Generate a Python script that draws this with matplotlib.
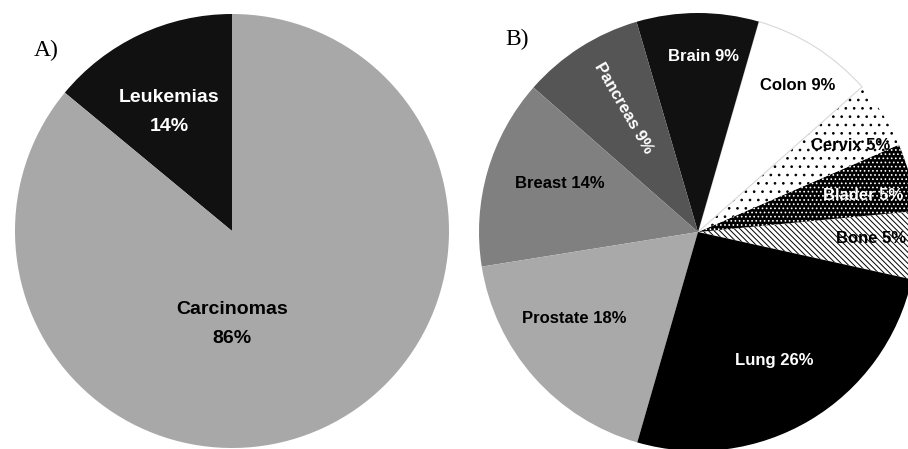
import numpy as np
import matplotlib
matplotlib.use("Agg")
import matplotlib.pyplot as plt

# ---- data ----
a_labels = ["Leukemias", "Carcinomas"]
a_values = [14, 86]
a_colors = ["#111111", "#a8a8a8"]
a_textcolors = ["white", "black"]
a_text = ["Leukemias\n14%", "Carcinomas\n86%"]

b_labels = ["Bone", "Blader", "Cervix", "Colon", "Brain", "Pancreas", "Breast", "Prostate", "Lung"]
b_values = [5, 5, 5, 9, 9, 9, 14, 18, 26]
b_colors = ["white", "black", "white", "white", "#111111", "#555555", "#808080", "#a9a9a9", "black"]
b_hatches = ["\\\\\\\\\\\\", "....", "..", None, None, None, None, None, None]
b_hatchcolors = ["black", "white", "black", None, None, None, None, None, None]
b_textcolors = ["black", "white", "black", "black", "white", "white", "black", "black", "white"]

# label layout (distance from centre, angular nudge in degrees)
b_labeldist = [0.79, 0.77, 0.80, 0.81, 0.80, 0.66, 0.67, 0.69, 0.68]
b_labelnudge = [1.5, -2, -3, -2, -2, -1.5, -3, -6.5, 0]

plt.rcParams["hatch.linewidth"] = 0.7

W, H = 908, 449
fig = plt.figure(figsize=(W / 100, H / 100), dpi=100)
fig.patch.set_facecolor("white")

def add_axes_px(cx, cy, r):
    left = (cx - r) / W
    bottom = (H - cy - r) / H
    return fig.add_axes([left, bottom, 2 * r / W, 2 * r / H])

def finish(ax):
    ax.set_xlim(-1, 1)
    ax.set_ylim(-1, 1)
    ax.set_aspect("equal")
    ax.axis("off")

sans = ["Liberation Sans", "DejaVu Sans"]
serif = ["Liberation Serif", "DejaVu Serif"]

# ---- Panel A ----
axA = add_axes_px(232, 231, 217)
wedgesA, _ = axA.pie(a_values, colors=a_colors, startangle=90, counterclock=True,
                     radius=1, wedgeprops=dict(linewidth=0))
finish(axA)
a_pos = [(0.62, 118), (0.43, -90)]
for w, t, tc, (rr, ang) in zip(wedgesA, a_text, a_textcolors, a_pos):
    axA.text(rr * np.cos(np.radians(ang)), rr * np.sin(np.radians(ang)), t,
             ha="center", va="center", color=tc, linespacing=1.9,
             family=sans, fontweight="bold", fontsize=14)
fig.text(34 / W, 1 - 50 / H, "A)", family=serif, fontsize=17, ha="left", va="center")

# ---- Panel B ----
axB = add_axes_px(698, 232, 219)
wedgesB, _ = axB.pie(b_values, colors=b_colors, startangle=-12.5, counterclock=True,
                     radius=1, wedgeprops=dict(linewidth=0))
finish(axB)
for w, lab, hc, hcol in zip(wedgesB, b_labels, b_hatches, b_hatchcolors):
    if hc:
        w.set_hatch(hc)
        w.set_edgecolor(hcol)
        w.set_linewidth(0)
        try:
            w.set_hatchcolor(hcol)
        except Exception:
            pass
    if lab == "Colon":
        w.set_edgecolor("#d8d8d8")
        w.set_linewidth(0.8)
for w, lab, val, tc, rr, nd in zip(wedgesB, b_labels, b_values, b_textcolors,
                                   b_labeldist, b_labelnudge):
    ang = (w.theta1 + w.theta2) / 2 + nd
    x, y = rr * np.cos(np.radians(ang)), rr * np.sin(np.radians(ang))
    rot = -60 if lab == "Pancreas" else 0
    axB.text(x, y, f"{lab} {val}%", ha="center", va="center", color=tc,
             rotation=rot, rotation_mode="anchor",
             family=sans, fontweight="bold", fontsize=12)
fig.text(505 / W, 1 - 39 / H, "B)", family=serif, fontsize=17, ha="left", va="center")

fig.savefig("out.png", dpi=100, facecolor="white")
